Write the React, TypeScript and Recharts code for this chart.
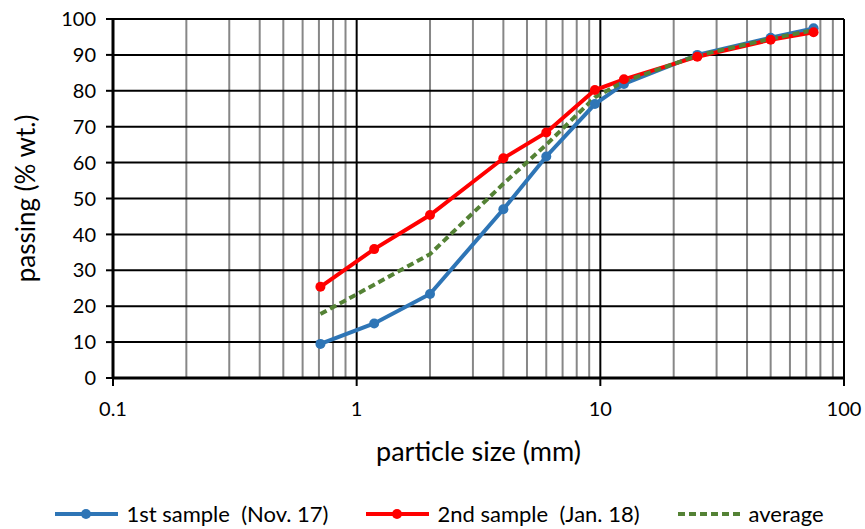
import React from 'react';
import { LineChart, Line, XAxis, YAxis, CartesianGrid, Legend } from 'recharts';

const sizes = [0.71, 1.18, 2, 4, 6, 9.5, 12.5, 25, 50, 75];
const sample1 = [9.5, 15.2, 23.4, 47.0, 61.7, 76.3, 81.9, 90.0, 94.8, 97.4];
const sample2 = [25.4, 35.9, 45.4, 61.2, 68.4, 80.2, 83.2, 89.5, 94.2, 96.3];
const average = [17.8, 26.0, 34.5, 54.1, 65.0, 78.2, 82.6, 89.8, 94.5, 96.9];

const xTicks = [0.1, 1, 10, 100];
const yTicks = [0, 10, 20, 30, 40, 50, 60, 70, 80, 90, 100];
const minorX = [0.2, 0.3, 0.4, 0.5, 0.6, 0.7, 0.8, 0.9, 2, 3, 4, 5, 6, 7, 8, 9, 20, 30, 40, 50, 60, 70, 80, 90];
const majorX = [1, 10, 100];
const yGrid = [10, 20, 30, 40, 50, 60, 70, 80, 90, 100];

const names = ['1st sample  (Nov. 17)', '2nd sample  (Jan. 18)', 'average'];
const colors = ['#2E75B6', '#FF0000', '#548235'];

const data = sizes.map((s, i) => ({ size: s, s1: sample1[i], s2: sample2[i], avg: average[i] }));

const FONT = 'Lato, "Noto Sans", sans-serif';

const LegendContent = () => (
  <div style={{ display: 'flex', justifyContent: 'center', alignItems: 'center', fontFamily: FONT, fontSize: 22, color: '#000', paddingLeft: 14 }}>
    {names.map((n, i) => (
      <div key={n} style={{ display: 'flex', alignItems: 'center', marginRight: i < 2 ? 38 : 0 }}>
        <svg width={63} height={12} style={{ marginRight: 8 }}>
          {i < 2 ? (
            <>
              <line x1={0} y1={6} x2={63} y2={6} stroke={colors[i]} strokeWidth={4} />
              <circle cx={31} cy={6} r={5} fill={colors[i]} />
            </>
          ) : (
            <line x1={0} y1={6} x2={63} y2={6} stroke={colors[i]} strokeWidth={4} strokeDasharray="7 4" />
          )}
        </svg>
        <span style={{ whiteSpace: 'pre' }}>{n}</span>
      </div>
    ))}
  </div>
);

export default function App() {
  return (
    <div style={{ position: 'absolute', left: 0, top: 0 }}>
      <LineChart width={865} height={529} data={data} margin={{ top: 19, right: 21, left: 0, bottom: 61 }}>
        <CartesianGrid horizontal={false} verticalValues={minorX} stroke="#878787" strokeWidth={2} fill="none" />
        <CartesianGrid verticalValues={majorX} horizontalValues={yGrid} stroke="#000" strokeWidth={2} fill="none" />
        <XAxis
          dataKey="size"
          type="number"
          scale="log"
          domain={[0.1, 100]}
          ticks={xTicks}
          interval={0}
          allowDataOverflow
          height={90}
          tickFormatter={(v: number) => String(v)}
          tick={{ fill: '#000', fontSize: 20, fontFamily: FONT }}
          tickLine={{ stroke: '#000', strokeWidth: 2 }}
          axisLine={{ stroke: '#000', strokeWidth: 3 }}
          tickSize={8}
          tickMargin={16}
          label={{ value: 'particle size (mm)', position: 'insideBottom', offset: 7, style: { fontSize: 27, fontFamily: FONT, fill: '#000' } }}
        />
        <YAxis
          type="number"
          domain={[0, 100]}
          ticks={yTicks}
          interval={0}
          width={113}
          tick={{ fill: '#000', fontSize: 20, fontFamily: FONT }}
          tickLine={{ stroke: '#000', strokeWidth: 2 }}
          axisLine={{ stroke: '#000', strokeWidth: 3 }}
          tickSize={7}
          tickMargin={10}
          label={{ value: 'passing (% wt.)', angle: -90, position: 'insideLeft', offset: 26, style: { textAnchor: 'middle', fontSize: 26, fontFamily: FONT, fill: '#000' } }}
        />
        <Legend verticalAlign="middle" layout="horizontal" align="center" wrapperStyle={{ top: 500, left: 0, width: 865 }} content={<LegendContent />} />
        <Line dataKey="s1" name={names[0]} stroke={colors[0]} strokeWidth={4} dot={{ r: 5, fill: colors[0], stroke: colors[0], strokeWidth: 0 }} isAnimationActive={false} />
        <Line dataKey="s2" name={names[1]} stroke={colors[1]} strokeWidth={4} dot={{ r: 5, fill: colors[1], stroke: colors[1], strokeWidth: 0 }} isAnimationActive={false} />
        <Line dataKey="avg" name={names[2]} stroke={colors[2]} strokeWidth={4} strokeDasharray="7 4" dot={false} isAnimationActive={false} />
      </LineChart>
    </div>
  );
}
